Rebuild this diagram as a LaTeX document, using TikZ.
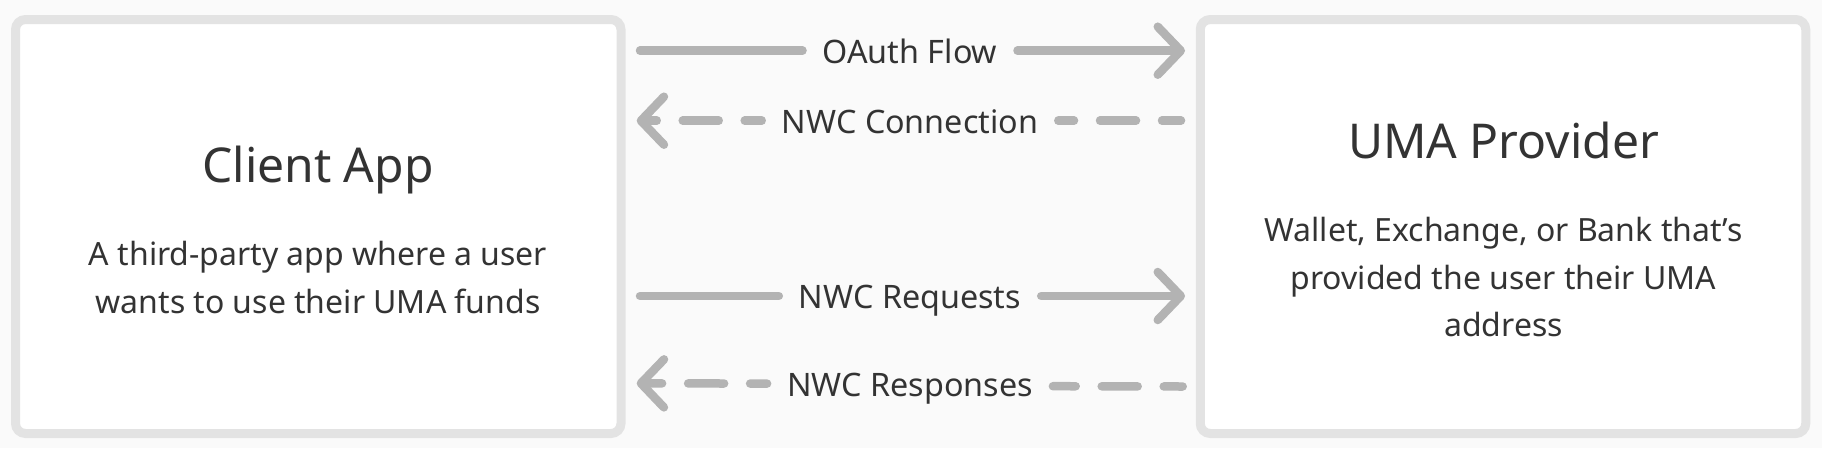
\documentclass[tikz,border=0pt]{standalone}
\usepackage{fontspec}
\setmainfont{Noto Sans}
\usetikzlibrary{arrows.meta,calc}
\definecolor{bgc}{HTML}{FAFAFA}
\definecolor{boxc}{HTML}{E3E3E3}
\definecolor{arr}{HTML}{B3B3B3}
\definecolor{txt}{HTML}{333333}
\tikzset{
  box/.style={draw=boxc, fill=white, line width=9pt, rounded corners=10pt,
    minimum width=605.5pt, minimum height=414pt, inner sep=0pt},
  ttl/.style={text=txt, font=\fontsize{48}{58}\selectfont, anchor=base, inner sep=0pt},
  desc/.style={text=txt, font=\fontsize{32}{38}\selectfont, anchor=base, inner sep=0pt},
  lbl/.style={text=txt, font=\fontsize{32.3}{38}\selectfont, anchor=base, inner xsep=20pt, inner ysep=0pt},
  flow/.style={draw=arr, line width=8.5pt, line cap=round},
  dflow/.style={flow, dash pattern=on 36pt off 26pt},
  chev/.style={-{Straight Barb[round, length=23pt, width=48pt]}}
}
\begin{document}
\begin{tikzpicture}[x=1pt, y=-1pt]
\useasboundingbox (0,0) rectangle (1822,448);
\fill[bgc] (0,0) rectangle (1822,448);

\node[box] (client) at (318.25,226.5) {};
\node[box] (provider) at (1503,226.5) {};

\node[ttl] (clientT) at (318,182.7) {Client App};
\node[desc] (clientD1) at (318,265.7) {A third-party app where a user};
\node[desc] (clientD2) at (318,313.2) {wants to use their UMA funds};

\node[ttl] (provT) at (1503.5,158) {UMA Provider};
\node[desc] (provD1) at (1503.5,241.7) {Wallet, Exchange, or Bank that’s};
\node[desc] (provD2) at (1503.5,289) {provided the user their UMA};
\node[desc] (provD3) at (1503.5,336.5) {address};

% connector end points
\coordinate (oaS) at (640,50.7);
\coordinate (oaE) at (1185,50.7);
\coordinate (coS) at (1181,120.7);
\coordinate (coE) at (636.7,120.7);
\coordinate (rqS) at (640,296);
\coordinate (rqE) at (1185,296);
\coordinate (rsS) at (1182.7,386.5);
\coordinate (rsE) at (636.7,383.3);

% labels
\node[lbl] (oa) at (910,63.3) {OAuth Flow};
\node[lbl] (co) at (910,133.3) {NWC Connection};
\node[lbl] (rq) at (910,308.3) {NWC Requests};
\node[lbl] (rs) at (910,396.7) {NWC Responses};

% OAuth Flow
\draw[flow] (oaS) -- (oa.west |- oaS);
\draw[flow, chev] (oa.east |- oaE) -- (oaE);
% NWC Connection
\draw[dflow, dash phase=17pt] (coS) -- (co.east |- coS);
\draw[dflow, dash phase=19pt, chev] (co.west |- coE) -- (coE);
% NWC Requests
\draw[flow] (rqS) -- (rq.west |- rqS);
\draw[flow, chev] (rq.east |- rqE) -- (rqE);
% NWC Responses
\draw[dflow, dash phase=17pt] (rsS) -- ($(rs.east |- rsS)+(0,-0.3)$);
\draw[dflow, dash phase=19pt, chev] ($(rs.west |- rsE)+(0,0.3)$) -- (rsE);
\end{tikzpicture}
\end{document}
